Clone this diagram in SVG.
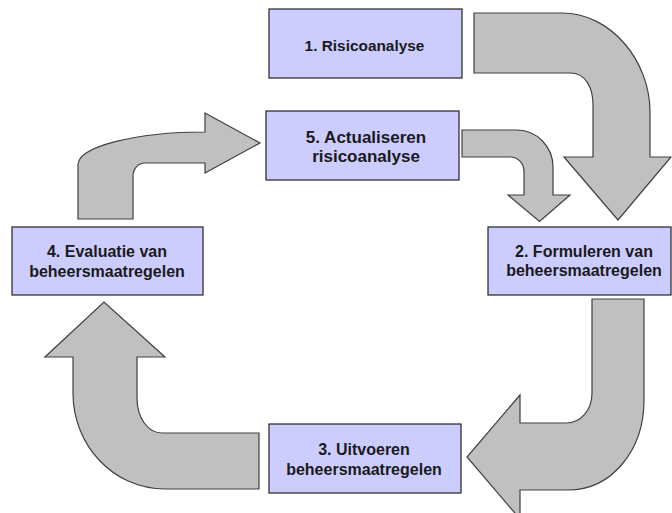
<svg xmlns="http://www.w3.org/2000/svg" width="672" height="513" viewBox="0 0 672 513">
<style>
.box{fill:#CCCCFF;stroke:#222;stroke-width:1.2}
.arrow{fill:#C0C0C0;stroke:#404040;stroke-width:1.2;stroke-linejoin:miter}
.lbl{font-family:"Liberation Sans",Arial,sans-serif;font-weight:bold;font-size:16px;fill:#1a1a1a;text-anchor:middle}
</style>
<rect width="672" height="513" fill="#ffffff"/>
<g id="connectors">
<path class="arrow" d="M474,13 L562,13 C610,13 650,60 650,112 L650,157 L671,157 L618,220 L564,157 L593,157 L593,105 C593,88 586,73 570,73 L474,73 Z"/>
<path class="arrow" d="M462,130 L517,130 C537,130 553,147 553,167 L553,195 L570,195 L539.5,221.5 L508,195 L524,195 L524,172 C524,163 518,157 510,157 L462,157 Z"/>
<path class="arrow" d="M644,299 L644,400 C644,450 612,490 568,490 L520,490 L520,519 L467,457 L520,395 L520,423 L566,423 C581,423 592,410 592,393 L592,299 Z"/>
<path class="arrow" d="M259,433 L162,433 C148,433 137,418 137,398 L137,357 L165,357 L104,302 L45,357 L73,357 L73,393 C73,445 113,489 165,489 L259,489 Z"/>
<path class="arrow" d="M78,219 L78,165 C78,146.8 134.9,132 205,132 L205,113 L260,143 L205,173 L205,163 L145,163 C138,163 133,169 133,176 L133,219 Z"/>
</g>
<g id="node1">
<rect class="box" x="269" y="9" width="193" height="69"/>
<text class="lbl" x="364.5" y="50.5" style="font-size:15.4px">1. Risicoanalyse</text>
</g>
<g id="node5">
<rect class="box" x="266" y="111" width="193" height="69"/>
<text class="lbl" x="366" y="142.5" style="font-size:17px">5. Actualiseren</text>
<text class="lbl" x="366" y="162" style="font-size:17px">risicoanalyse</text>
</g>
<g id="node4">
<rect class="box" x="12" y="227" width="191" height="68"/>
<text class="lbl" x="107" y="256.5">4. Evaluatie van</text>
<text class="lbl" x="107" y="276.5">beheersmaatregelen</text>
</g>
<g id="node2">
<rect class="box" x="488" y="227" width="183" height="68"/>
<text class="lbl" x="584" y="256.5">2. Formuleren van</text>
<text class="lbl" x="584" y="276">beheersmaatregelen</text>
</g>
<g id="node3">
<rect class="box" x="269" y="424" width="192" height="69"/>
<text class="lbl" x="364" y="455">3. Uitvoeren</text>
<text class="lbl" x="364" y="474.5">beheersmaatregelen</text>
</g>
</svg>
